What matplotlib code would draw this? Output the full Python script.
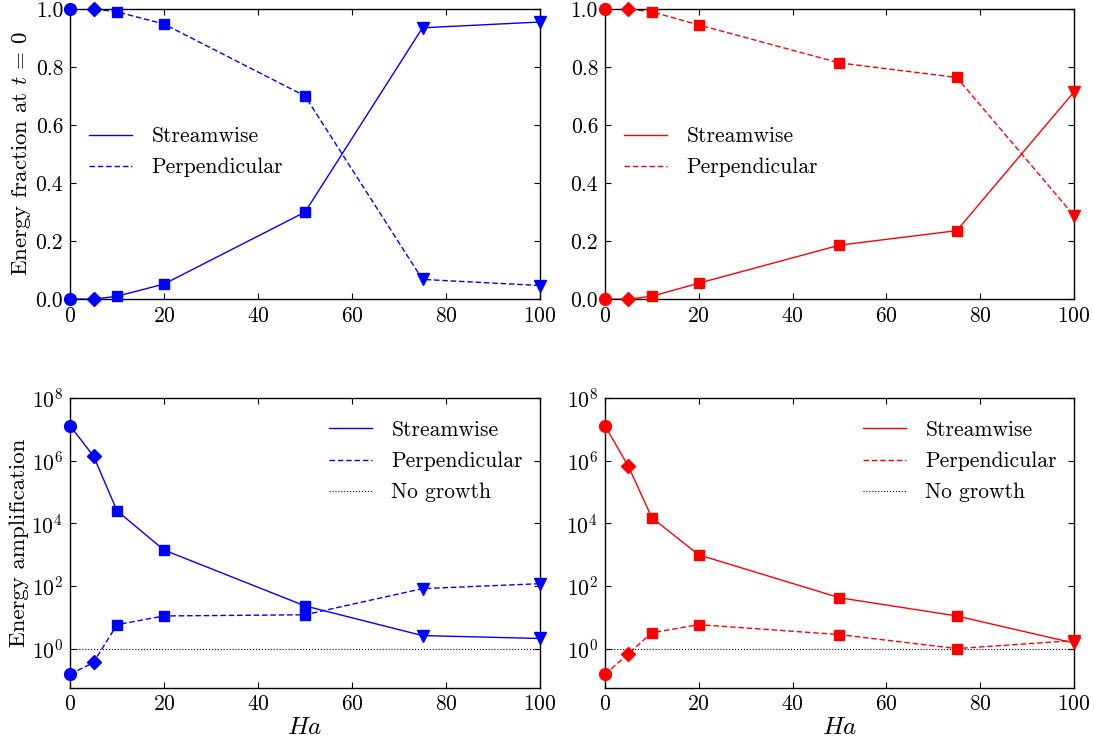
import numpy as np
import matplotlib
matplotlib.use('Agg')
import matplotlib.pyplot as plt

# --- Data ---
ha = [0, 5, 10, 20, 50, 75, 100]

# energy fraction at t = 0 (left: blue case, right: red case)
frac_stream_blue = [0.0, 0.0, 0.01, 0.052, 0.30, 0.935, 0.955]
frac_perp_blue = [1.0, 1.0, 0.99, 0.948, 0.70, 0.068, 0.047]
frac_stream_red = [0.0, 0.0, 0.01, 0.055, 0.186, 0.236, 0.714]
frac_perp_red = [1.0, 1.0, 0.99, 0.945, 0.814, 0.764, 0.288]

# energy amplification
amp_stream_blue = [1.3e7, 1.4e6, 2.5e4, 1.4e3, 23.0, 2.6, 2.1]
amp_perp_blue = [0.15, 0.36, 5.8, 11.0, 12.0, 82.0, 118.0]
amp_stream_red = [1.3e7, 6.5e5, 1.5e4, 980.0, 42.0, 11.0, 1.5]
amp_perp_red = [0.15, 0.69, 3.2, 5.8, 2.8, 1.0, 1.8]

# marker per Ha point
markers_blue = ['o', 'D', 's', 's', 's', 'v', 'v']
markers_red = ['o', 'D', 's', 's', 's', 's', 'v']

# --- Style ---
plt.rcParams['font.family'] = 'cmr10'
plt.rcParams['mathtext.fontset'] = 'cm'
plt.rcParams['axes.unicode_minus'] = False
plt.rcParams['axes.formatter.use_mathtext'] = True
plt.rcParams['font.size'] = 15
plt.rcParams['xtick.direction'] = 'in'
plt.rcParams['ytick.direction'] = 'in'
plt.rcParams['xtick.top'] = True
plt.rcParams['ytick.right'] = True
plt.rcParams['xtick.major.size'] = 4
plt.rcParams['ytick.major.size'] = 4
plt.rcParams['xtick.major.pad'] = 5
plt.rcParams['ytick.major.pad'] = 5

DASH = (4, 2)


def draw_series(ax, x, y, color, ls, markers, label):
    if ls == '--':
        ax.plot(x, y, color=color, lw=1, ls='--', dashes=DASH, label=label)
    else:
        ax.plot(x, y, color=color, lw=1, ls=ls, label=label)
    for xi, yi, m in zip(x, y, markers):
        ms = 8.5 if m in ('o', 'v') else 7.5
        ax.plot(xi, yi, marker=m, color=color, ms=ms, mec=color, ls='none',
                clip_on=False, zorder=3)


fig = plt.figure(figsize=(10.94, 7.46), dpi=100)
left_l, right_l = 0.064, 0.4936
left_r, right_r = 0.553, 0.9817
top_t, bot_t = 0.988, 0.599
top_b, bot_b = 0.4665, 0.0777

ax1 = fig.add_axes([left_l, bot_t, right_l - left_l, top_t - bot_t])
ax2 = fig.add_axes([left_r, bot_t, right_r - left_r, top_t - bot_t])
ax3 = fig.add_axes([left_l, bot_b, right_l - left_l, top_b - bot_b])
ax4 = fig.add_axes([left_r, bot_b, right_r - left_r, top_b - bot_b])

legend_kw = dict(frameon=False, handlelength=2.0, handletextpad=0.9,
                 labelspacing=0.55, fontsize=15.5)

# --- Energy fraction panels ---
for ax, ys, yp, c, mk in [(ax1, frac_stream_blue, frac_perp_blue, 'b', markers_blue),
                          (ax2, frac_stream_red, frac_perp_red, 'r', markers_red)]:
    draw_series(ax, ha, ys, c, '-', mk, 'Streamwise')
    draw_series(ax, ha, yp, c, '--', mk, 'Perpendicular')
    ax.set_xlim(0, 100)
    ax.set_ylim(0, 1)
    ax.set_xticks(np.arange(0, 101, 20))
    ax.set_yticks(np.arange(0, 1.01, 0.2))
    ax.set_yticklabels(['0.0', '0.2', '0.4', '0.6', '0.8', '1.0'])
    ax.legend(loc='center left', bbox_to_anchor=(0.0, 0.507), **legend_kw)
ax1.set_ylabel('Energy fraction at $t\\,=\\,0$', fontsize=16.5, labelpad=2)

# --- Energy amplification panels ---
for ax, ys, yp, c, mk in [(ax3, amp_stream_blue, amp_perp_blue, 'b', markers_blue),
                          (ax4, amp_stream_red, amp_perp_red, 'r', markers_red)]:
    draw_series(ax, ha, ys, c, '-', mk, 'Streamwise')
    draw_series(ax, ha, yp, c, '--', mk, 'Perpendicular')
    ax.axhline(1.0, color='k', lw=0.8, ls=':', label='No growth')
    ax.set_yscale('log')
    ax.set_xlim(0, 100)
    ax.set_ylim(0.055, 1e8)
    ax.set_xticks(np.arange(0, 101, 20))
    ax.set_yticks([1e0, 1e2, 1e4, 1e6, 1e8])
    ax.minorticks_off()
    ax.set_xlabel('$Ha$', fontsize=18, labelpad=2)
    ax.legend(loc='upper right', bbox_to_anchor=(1.005, 0.99), **legend_kw)
ax3.set_ylabel('Energy amplification', fontsize=16.5, labelpad=2)

for ax in (ax1, ax2, ax3, ax4):
    ax.tick_params(labelsize=15.5)
    for s in ax.spines.values():
        s.set_linewidth(1.0)

fig.savefig('out.png', dpi=100)
